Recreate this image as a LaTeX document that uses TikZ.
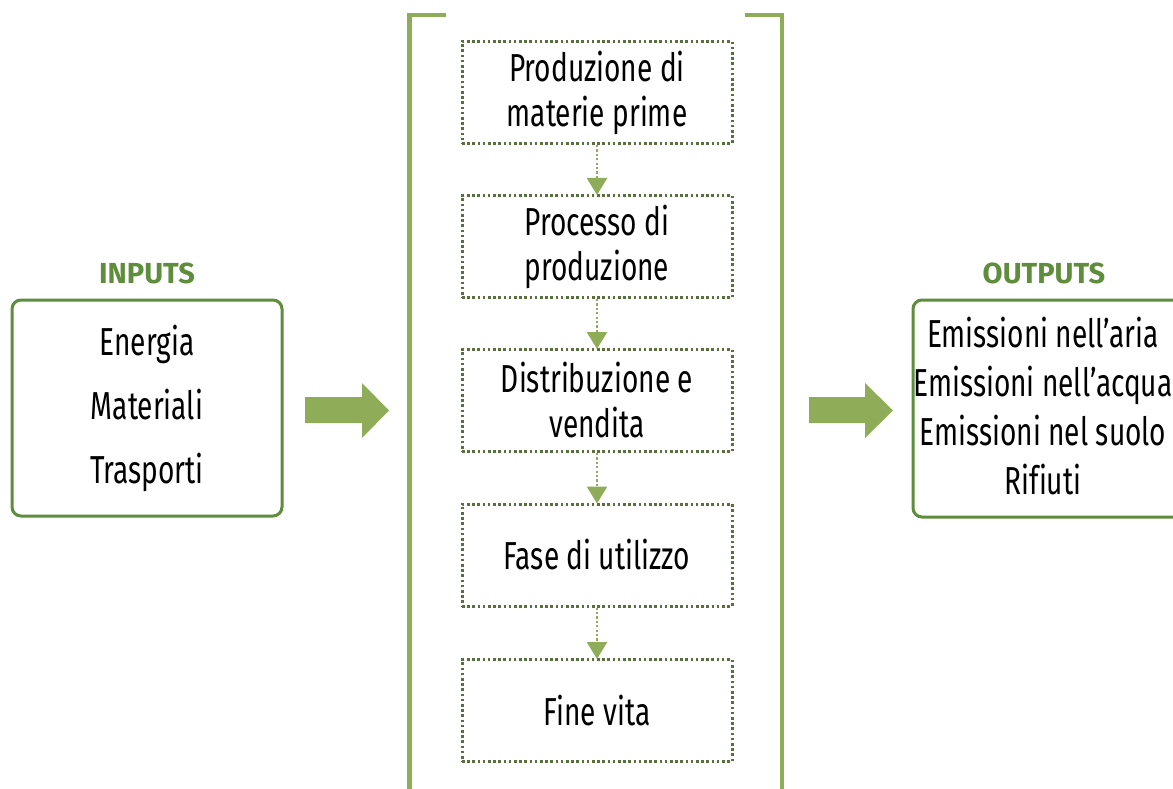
\documentclass[tikz,border=0pt]{standalone}
\usepackage{fontspec}
\setmainfont{Fira Sans}
\newfontfamily\condfont[FakeStretch=0.72,Ligatures=NoCommon]{Fira Sans}
\usetikzlibrary{arrows.meta}
\definecolor{boxgreen}{HTML}{5E8D3C}
\definecolor{lightgreen}{HTML}{8FAD58}
\definecolor{dotgreen}{HTML}{5A703C}
\begin{document}
\begin{tikzpicture}[x=1pt,y=-1pt,
  stepbox/.style={draw=dotgreen, line width=3pt, dash pattern=on 2.6pt off 2.6pt,
    minimum width=270pt, minimum height=102pt, inner sep=0pt, align=center,
    font=\condfont\fontsize{39}{45}\selectfont},
  flow/.style={draw=lightgreen, line width=2.6pt, dash pattern=on 2.2pt off 2.2pt,
    -{Triangle[width=20pt,length=17pt]}, shorten >=-1pt},
  iobox/.style={draw=boxgreen, line width=3pt, rounded corners=9pt, inner sep=0pt},
  iotext/.style={align=center, inner sep=0pt},
  heading/.style={text=boxgreen, font=\fontsize{29}{32}\selectfont\bfseries, inner sep=0pt},
  bigarrow/.style={fill=lightgreen},
  bracket/.style={draw=lightgreen, line width=4.5pt, line cap=butt, line join=miter}
]
\clip (0,0) rectangle (1173,789);
\fill[white] (0,0) rectangle (1173,789);

% bracket around life cycle
\draw[bracket] (446,15) -- (409.5,15) -- (409.5,800);
\draw[bracket] (745,15) -- (782,15) -- (782,800);

% life-cycle steps
\node[stepbox] (s1) at (597,92.5) {Produzione di\\materie prime};
\node[stepbox] (s2) at (597,246.5) {Processo di\\produzione};
\node[stepbox] (s3) at (597,400.5) {Distribuzione e\\vendita};
\node[stepbox] (s4) at (597,555) {Fase di utilizzo};
\node[stepbox] (s5) at (597,710.5) {Fine vita};
\draw[flow] (s1.south) -- (s2.north);
\draw[flow] (s2.south) -- (s3.north);
\draw[flow] (s3.south) -- (s4.north);
\draw[flow] (s4.south) -- (s5.north);

% inputs
\node[heading] (inhead) at (147,273) {INPUTS};
\node[iobox, minimum width=270pt, minimum height=216pt] (inbox) at (147,408) {};
\node[iotext, font=\condfont\fontsize{39}{64}\selectfont] (intext) at (inbox.center) {Energia\\Materiali\\Trasporti};

% outputs
\node[heading] (outhead) at (1044,273) {OUTPUTS};
\node[iobox, minimum width=272pt, minimum height=217pt] (outbox) at (1049,408.5) {};
\node[iotext, font=\condfont\fontsize{39}{49}\selectfont] (outtext) at (1043,406) {Emissioni nell’aria\\Emissioni nell’acqua\\Emissioni nel suolo\\Rifiuti};

% big arrows
\fill[bigarrow] (305,397) -- (362,397) -- (362,383) -- (389,410.5) -- (362,438) -- (362,423) -- (305,423) -- cycle;
\fill[bigarrow] (809,397) -- (865,397) -- (865,383) -- (893,410.5) -- (865,438) -- (865,423) -- (809,423) -- cycle;
\end{tikzpicture}
\end{document}
